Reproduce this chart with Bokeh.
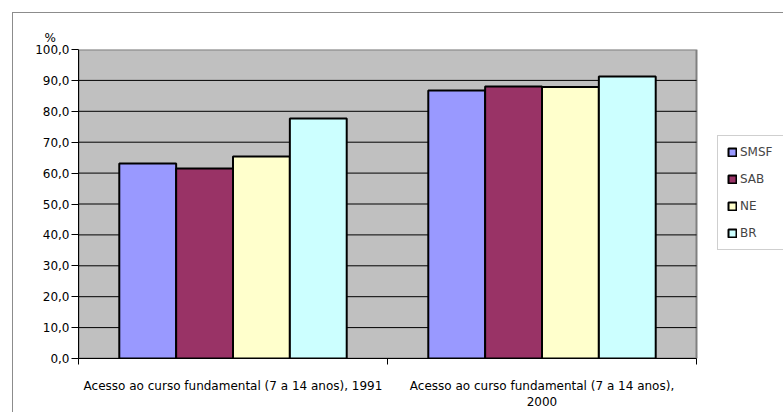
from bokeh.plotting import figure
from bokeh.models import (Range1d, LinearAxis, FixedTicker,
                          Legend, LegendItem, ColumnDataSource)
from bokeh.transform import dodge
from bokeh.embed import file_html
from bokeh.resources import INLINE

categories = ["Acesso ao curso fundamental (7 a 14 anos), 1991",
              "Acesso ao curso fundamental (7 a 14 anos),\n2000"]
series_names = ["SMSF", "SAB", "NE", "BR"]
smsf = [63.1, 86.7]
sab = [61.5, 88.0]
ne = [65.4, 87.9]
br = [77.7, 91.3]
colors = ["#9999FF", "#993366", "#FFFFCC", "#CCFFFF"]
y_ticks = [0, 10, 20, 30, 40, 50, 60, 70, 80, 90, 100]
y_unit = "%"

FONT = "DejaVu Sans"

n_cat = len(categories)
centers = [i + 0.5 for i in range(n_cat)]
src = ColumnDataSource(dict(xc=centers, SMSF=smsf, SAB=sab, NE=ne, BR=br))

AREA_W = 618      # pixel width of the grey plot area
FRAME_W = 705     # frame extends to the right to host the legend
x_end = n_cat * FRAME_W / AREA_W
y_top = y_ticks[-1]

p = figure(x_range=Range1d(0, x_end), y_range=Range1d(0, y_top),
           frame_width=FRAME_W, frame_height=309,
           min_border_left=65, min_border_right=0, min_border_top=36, min_border_bottom=0,
           output_backend="svg", toolbar_location=None, x_axis_location=None,
           background_fill_color="white", border_fill_color="white")
p.margin = (12, 0, 0, 12)
p.styles = {"border-left": "1px solid #8c8c8c", "border-top": "1px solid #8c8c8c"}
p.outline_line_color = None
p.xgrid.grid_line_color = None
p.ygrid.grid_line_color = None

p.title.text = y_unit
p.title.align = "left"
p.title.offset = -34
p.title.text_font = FONT
p.title.text_font_size = "12px"
p.title.text_font_style = "normal"
p.title.text_color = "black"
p.title.standoff = 9

# grey plot area
p.quad(left=0, right=n_cat, bottom=y_ticks[0], top=y_top,
       fill_color="#C0C0C0", line_color="#808080", line_width=2)
inner = y_ticks[1:-1]
p.segment(x0=[0] * len(inner), x1=[n_cat] * len(inner), y0=inner, y1=inner,
          line_color="black", line_width=1)

bw = 0.184
renderers = []
for j, (name, col) in enumerate(zip(series_names, colors)):
    r = p.vbar(x=dodge("xc", (j - 1.5) * bw), top=name, width=bw,
               source=src, fill_color=col, line_color="black", line_width=2)
    renderers.append(r)

yax = p.yaxis[0]
yax.ticker = FixedTicker(ticks=y_ticks)
yax.bounds = (y_ticks[0], y_top)
yax.major_label_overrides = {t: f"{t:.1f}".replace(".", ",") for t in y_ticks}
yax.major_tick_out = 7
yax.major_tick_in = 0
yax.minor_tick_line_color = None
yax.axis_line_color = "black"
yax.major_tick_line_color = "black"
yax.major_label_standoff = 2
yax.major_label_text_font = FONT
yax.major_label_text_font_size = "12px"
yax.major_label_text_color = "black"

bounds = list(range(n_cat + 1))
tick_axis = LinearAxis(ticker=FixedTicker(ticks=bounds), bounds=(0, n_cat))
tick_axis.major_label_overrides = {b: "" for b in bounds}
tick_axis.major_label_text_font_size = "1px"
tick_axis.major_label_standoff = 0
tick_axis.major_tick_out = 6
tick_axis.major_tick_in = 0
tick_axis.minor_tick_line_color = None
tick_axis.axis_line_color = "black"
tick_axis.major_tick_line_color = "black"
p.add_layout(tick_axis, "below")

cat_axis = LinearAxis(ticker=FixedTicker(ticks=centers))
cat_axis.major_label_overrides = {c: lab for c, lab in zip(centers, categories)}
cat_axis.axis_line_color = None
cat_axis.major_tick_line_color = None
cat_axis.minor_tick_line_color = None
cat_axis.major_tick_out = 0
cat_axis.major_tick_in = 0
cat_axis.major_label_standoff = 14
cat_axis.major_label_text_font = FONT
cat_axis.major_label_text_font_size = "12px"
cat_axis.major_label_text_color = "black"
p.add_layout(cat_axis, "below")

legend = Legend(items=[LegendItem(label=n, renderers=[r]) for n, r in zip(series_names, renderers)],
                location=(639, 108), orientation="vertical")
legend.padding = 9
legend.spacing = 13
legend.glyph_width = 10
legend.glyph_height = 10
legend.label_height = 10
legend.label_width = 60
legend.label_standoff = 3
legend.label_text_font = FONT
legend.label_text_font_size = "12px"
legend.border_line_color = "#a0a0a0"
legend.border_line_width = 1
legend.background_fill_color = "white"
legend.margin = 0
p.add_layout(legend)

open("out.html", "w").write(file_html(p, INLINE))
